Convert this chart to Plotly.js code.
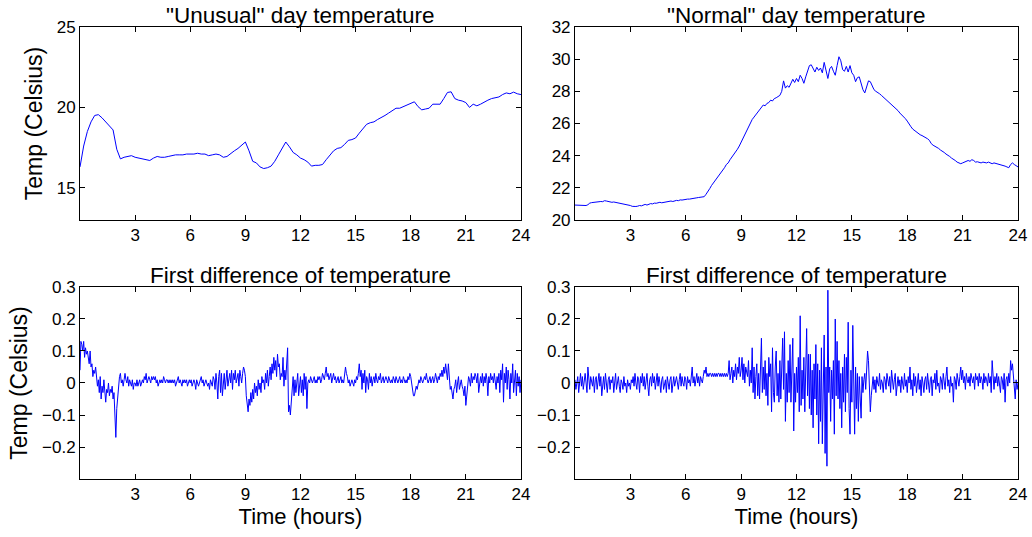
<!DOCTYPE html>
<html><head><meta charset="utf-8">
<script src="https://cdn.plot.ly/plotly-3.0.1.min.js"></script>
<style>html,body{margin:0;padding:0;background:#fff;overflow:hidden}#chart{width:1032px;height:537px}</style>
</head><body><div id="chart"></div>
<script>
// ---- data (time in hours) ----
const unusualTempStep = 0.2;   // hours between samples
const unusualTemp = [
16.3,17.6,18.5,19.1,19.5,
19.55,19.35,19.1,18.85,18.6,
17.4,16.8,16.9,16.95,17.0,
16.9,16.85,16.8,16.75,16.7,
16.85,16.95,16.9,16.9,16.95,
17.0,17.05,17.05,17.05,17.1,
17.1,17.1,17.15,17.1,17.1,
17.0,17.05,17.1,17.05,16.9,
16.95,17.15,17.3,17.45,17.65,
17.85,17.3,16.65,16.55,16.3,
16.2,16.25,16.35,16.65,17.05,
17.5,17.85,17.55,17.2,17.05,
16.85,16.75,16.6,16.35,16.4,
16.4,16.45,16.75,17.05,17.3,
17.45,17.5,17.7,17.95,18.0,
18.1,18.4,18.7,18.95,19.05,
19.1,19.25,19.35,19.5,19.65,
19.8,19.95,19.95,20.05,20.1,
20.2,20.35,20.05,19.85,19.9,
19.95,20.2,20.2,20.2,20.55,
20.93,20.97,20.55,20.45,20.4,
20.3,20.0,20.2,20.1,20.2,
20.35,20.45,20.55,20.6,20.65,
20.8,20.9,20.85,20.95,20.85,
20.8];

const normalTempStep = 0.1;
const normalTemp = [
20.93,20.92,20.9,20.91,20.9,20.89,20.9,20.95,21.05,21.08,
21.1,21.08,21.1,21.12,21.15,21.14,21.2,21.18,21.15,21.12,
21.1,21.12,21.1,21.08,21.05,21.04,21.0,20.98,20.95,20.93,
20.9,20.85,20.83,20.84,20.86,20.9,20.88,20.95,20.97,20.93,
20.98,21.02,21.0,21.05,21.04,21.08,21.1,21.07,21.1,21.12,
21.14,21.16,21.18,21.15,21.2,21.22,21.2,21.25,21.24,21.27,
21.28,21.3,21.3,21.33,21.36,21.35,21.38,21.4,21.42,21.43,
21.45,21.6,21.75,21.95,22.15,22.3,22.45,22.6,22.8,22.95,
23.1,23.25,23.45,23.55,23.75,23.9,24.05,24.25,24.4,24.6,
24.85,25.05,25.25,25.5,25.75,26.0,26.25,26.4,26.55,26.65,
26.8,27.0,27.15,27.1,27.25,27.3,27.45,27.4,27.55,27.6,
27.7,27.75,28.0,28.65,28.2,28.35,28.25,28.5,28.75,28.55,
28.8,28.6,29.0,28.8,28.5,28.9,29.2,29.6,29.65,29.4,
29.2,29.5,29.3,29.45,29.15,29.8,29.3,28.8,29.4,29.55,
29.25,29.0,29.6,30.15,29.9,29.35,29.25,29.55,29.2,29.6,
29.15,29.0,28.6,28.85,28.9,28.5,28.1,27.9,28.35,28.65,
28.6,28.3,28.1,28.0,27.95,27.85,27.75,27.65,27.55,27.4,
27.3,27.2,27.15,27.05,26.9,26.8,26.65,26.55,26.45,26.3,
26.15,25.95,25.8,25.65,25.55,25.45,25.35,25.3,25.25,25.2,
25.1,25.05,24.95,24.75,24.65,24.6,24.55,24.45,24.35,24.3,
24.2,24.1,24.05,23.95,23.85,23.8,23.7,23.6,23.55,23.5,
23.55,23.6,23.65,23.7,23.65,23.75,23.7,23.6,23.62,23.6,
23.55,23.6,23.58,23.55,23.6,23.55,23.5,23.55,23.52,23.5,
23.48,23.45,23.4,23.35,23.3,23.25,23.45,23.55,23.45,23.35,
23.3];

const diffStep = 0.05;
const unusualDiff = [
0.04,0.13,0.12,0.1,0.13,0.08,0.11,0.09,0.1,0.07,0.06,0.1,0.05,0.06,0.02,0.04,0.03,0.05,0.0,-0.01,
0.01,-0.03,0.02,-0.05,-0.01,-0.03,0.01,-0.04,-0.06,-0.02,-0.03,0.0,-0.04,-0.02,-0.03,-0.01,-0.05,-0.03,-0.1,-0.17,
-0.08,-0.04,-0.01,0.02,0.03,0.0,0.01,-0.01,0.01,0.03,0.01,0.0,0.02,-0.01,0.01,0.0,-0.01,0.01,-0.02,0.0,
0.0,-0.01,0.01,-0.01,0.0,0.01,-0.01,0.0,0.01,0.0,0.02,0.01,0.03,0.0,0.01,0.02,0.01,0.0,0.02,0.01,
0.02,0.01,0.02,0.0,0.01,-0.01,0.0,0.01,0.0,0.01,0.0,0.02,0.01,0.0,0.01,0.01,0.0,0.01,0.0,0.01,
0.0,0.01,0.0,0.01,-0.01,0.0,0.01,0.02,0.0,0.01,0.0,-0.01,0.01,0.0,0.01,0.0,0.01,-0.01,0.0,0.01,
0.0,0.01,-0.01,0.0,0.01,0.0,-0.02,0.01,0.0,-0.01,0.0,0.01,0.02,0.0,0.01,-0.01,0.0,0.01,0.0,-0.01,
0.0,-0.02,0.01,0.0,-0.01,0.02,0.01,-0.02,0.03,0.0,-0.05,0.02,0.04,-0.03,0.03,-0.04,0.01,0.03,-0.02,0.02,
0.04,-0.01,0.02,0.03,0.0,0.04,-0.02,0.03,0.01,0.04,0.0,0.02,0.03,-0.01,0.04,0.02,0.0,0.03,0.05,0.04,
0.02,-0.04,-0.07,-0.09,-0.05,-0.07,-0.03,-0.06,-0.02,-0.05,0.0,-0.03,-0.01,-0.04,0.01,-0.02,0.0,-0.03,0.02,0.0,
0.01,-0.02,0.03,0.0,0.04,-0.01,0.02,0.05,0.01,0.06,0.03,0.08,0.04,0.07,0.02,0.09,0.05,0.06,0.01,0.03,
0.02,0.08,-0.01,0.04,0.01,0.05,0.11,-0.09,-0.07,-0.1,-0.05,-0.02,0.02,-0.04,0.01,-0.03,0.0,0.03,-0.04,0.0,
0.02,-0.03,0.01,-0.04,0.03,-0.02,0.02,-0.08,0.0,0.01,0.0,0.02,0.01,0.0,0.01,0.02,0.0,0.01,0.0,0.02,
0.01,0.02,0.0,0.01,0.03,0.02,0.01,0.03,0.05,0.02,0.03,0.01,0.02,0.03,0.0,0.02,0.03,0.01,0.02,0.0,
0.01,0.02,0.0,0.01,0.02,0.0,0.01,0.0,0.02,0.05,0.03,0.02,0.0,0.01,-0.01,0.0,0.01,0.0,-0.01,0.01,
0.0,0.02,0.01,0.03,0.06,0.02,0.04,-0.02,0.03,0.0,0.04,-0.03,0.02,0.01,-0.02,0.03,0.0,0.02,-0.01,0.01,
0.02,0.0,0.03,0.01,0.0,0.02,0.01,0.03,0.0,0.01,0.02,0.0,0.01,0.02,0.01,0.0,0.02,0.01,0.0,0.01,
0.0,0.02,0.01,0.0,0.02,0.01,0.0,0.01,0.02,0.0,0.01,0.0,0.02,0.01,0.0,0.01,0.0,0.02,0.01,0.03,
0.02,0.0,-0.03,-0.04,-0.04,-0.02,-0.01,-0.02,0.0,0.01,0.0,0.02,0.01,0.0,0.01,0.02,0.01,0.03,0.01,0.0,
0.01,0.02,0.0,0.01,0.02,0.0,0.01,0.03,0.01,0.0,0.02,0.01,0.03,0.02,0.04,0.02,0.05,0.03,0.06,0.02,
0.01,0.06,0.0,-0.02,-0.01,-0.03,-0.05,-0.02,-0.01,0.01,-0.03,0.0,0.02,-0.02,0.0,0.01,-0.01,-0.02,-0.04,-0.01,
-0.07,-0.03,0.0,0.02,0.01,-0.01,0.03,0.0,0.02,0.01,0.03,0.02,0.0,0.03,-0.03,0.01,0.02,0.0,0.03,-0.01,
0.02,0.0,0.03,0.01,-0.04,0.02,0.0,0.03,0.01,0.02,0.0,0.03,0.01,-0.02,0.02,0.0,0.03,-0.03,0.04,0.01,
0.06,-0.06,0.03,0.0,0.05,-0.02,0.04,0.01,-0.05,0.03,0.0,0.06,-0.03,0.02,0.04,-0.04,0.03,-0.01,0.02,-0.03,
0.01];

const normalDiff = [
0.01,-0.02,0.0,0.02,-0.03,0.01,0.03,-0.01,0.02,-0.02,0.01,0.03,0.0,-0.03,0.05,0.01,-0.02,0.02,0.0,-0.01,
0.02,-0.03,0.01,0.02,-0.02,0.0,0.03,-0.01,0.02,-0.04,0.01,0.02,-0.02,0.03,0.0,-0.03,0.01,0.02,-0.02,0.01,
0.0,0.02,-0.03,0.01,0.03,-0.02,0.0,0.02,-0.01,-0.03,0.01,0.0,-0.02,0.02,-0.01,0.0,-0.03,0.01,-0.01,0.0,
-0.02,0.01,0.0,0.02,-0.01,0.03,0.0,-0.02,0.02,0.01,-0.03,0.02,0.0,0.03,-0.01,0.02,-0.02,0.0,0.03,-0.01,
-0.04,0.01,0.02,-0.01,0.03,0.0,0.02,-0.02,0.01,0.03,-0.01,0.02,0.0,-0.03,0.01,0.02,-0.02,0.0,0.01,-0.03,
0.02,0.0,-0.02,0.01,0.02,-0.03,0.0,0.02,-0.01,0.01,0.02,0.0,-0.02,0.01,0.03,-0.01,0.02,0.0,-0.01,0.02,
0.01,-0.02,0.02,0.0,0.01,-0.01,0.03,0.05,0.0,0.02,-0.01,0.01,0.03,0.0,0.02,-0.01,0.02,0.01,0.0,0.02,
0.04,0.03,0.05,0.02,0.03,0.02,0.03,0.03,0.02,0.03,0.02,0.03,0.02,0.03,0.02,0.03,0.03,0.02,0.03,0.02,
0.03,0.02,0.03,0.02,0.03,0.02,0.03,0.07,0.01,0.03,0.05,0.0,0.04,0.02,0.06,0.01,0.05,0.03,0.08,0.02,
0.04,0.08,0.01,0.06,0.0,0.05,0.03,0.02,0.07,-0.01,0.04,0.0,0.11,-0.03,0.05,-0.05,0.02,0.06,-0.04,0.03,
-0.05,0.03,0.14,-0.03,0.05,-0.02,0.07,-0.04,0.03,-0.07,0.08,0.02,0.06,-0.09,0.11,-0.03,-0.06,0.05,0.1,-0.04,
0.03,-0.06,0.07,-0.05,0.04,0.14,-0.02,0.16,-0.12,0.03,-0.06,0.07,-0.03,0.12,-0.06,0.05,0.14,-0.15,0.03,-0.06,
0.05,-0.03,0.08,-0.09,0.21,-0.07,0.04,-0.05,0.08,-0.09,0.06,0.17,-0.04,0.09,-0.08,0.09,-0.1,0.04,-0.14,0.06,
-0.05,0.12,-0.1,0.06,-0.19,0.04,-0.12,0.11,-0.19,0.07,0.15,-0.22,0.05,-0.26,0.29,-0.03,0.05,-0.12,0.04,-0.05,
0.07,-0.16,0.2,-0.04,0.13,-0.05,0.07,-0.08,0.03,-0.14,0.05,-0.06,0.09,-0.09,0.08,-0.03,0.19,-0.08,-0.16,0.04,
-0.06,0.18,-0.05,-0.16,0.05,-0.08,0.03,-0.12,0.02,-0.04,-0.11,0.02,-0.03,0.01,0.03,-0.02,0.08,0.1,0.07,-0.02,
-0.09,-0.04,0.0,0.02,-0.02,0.01,-0.03,0.02,0.0,-0.01,0.03,-0.02,0.01,0.0,-0.03,0.02,0.01,-0.02,0.03,0.0,
-0.01,0.02,-0.03,0.04,0.0,-0.02,0.01,0.03,-0.04,0.0,0.02,-0.01,0.01,-0.03,0.02,0.0,-0.02,0.03,-0.01,0.01,
-0.03,0.02,0.0,0.05,-0.02,0.01,-0.04,0.03,-0.01,0.02,-0.03,0.0,0.03,-0.02,0.01,-0.04,0.02,0.0,-0.03,0.01,
0.02,-0.02,0.03,0.0,-0.03,0.01,0.02,-0.04,0.01,0.0,0.03,-0.02,0.04,-0.01,0.0,-0.03,0.02,0.01,-0.02,0.03,
0.0,-0.02,0.02,0.05,-0.01,0.01,-0.03,0.02,-0.01,0.0,-0.06,0.02,0.01,-0.02,0.03,0.0,-0.01,0.02,0.05,0.01,
0.04,0.0,0.02,-0.02,0.03,0.01,0.0,0.02,-0.01,0.03,0.01,0.0,0.02,-0.02,0.03,0.01,0.02,-0.01,0.03,0.0,
0.02,0.01,-0.02,0.03,0.0,0.02,0.01,-0.01,0.03,0.0,0.02,-0.03,0.07,0.01,-0.02,0.02,0.0,0.03,-0.01,0.02,
0.0,-0.03,0.02,0.01,-0.02,0.03,-0.06,0.01,0.02,-0.01,0.03,0.0,0.07,0.04,0.06,0.02,-0.01,-0.05,0.01,-0.02,
0.0];

// ---- ticks and labels ----
const hourTicks = [3, 6, 9, 12, 15, 18, 21, 24];
const unusualTempTicks = [15, 20, 25];
const normalTempTicks = [20, 22, 24, 26, 28, 30, 32];
const diffTicks = [-0.2, -0.1, 0, 0.1, 0.2, 0.3];
const diffTickText = ['\u22120.2', '\u22120.1', '0', '0.1', '0.2', '0.3'];
const panelTitles = ['"Unusual" day temperature', '"Normal" day temperature',
                     'First difference of temperature', 'First difference of temperature'];
const yLabel = 'Temp (Celsius)';
const xLabel = 'Time (hours)';

// sample index -> hour of day
const hoursFor = (arr, step) => arr.map((_, i) => Math.round(i * step * 1000) / 1000);

const FONT = '"Liberation Sans", Arial, Helvetica, sans-serif';
const lineStyle = {color: '#0000ff', width: 1};

const traces = [
  {x: hoursFor(unusualTemp, unusualTempStep), y: unusualTemp, xaxis: 'x', yaxis: 'y'},
  {x: hoursFor(normalTemp, normalTempStep), y: normalTemp, xaxis: 'x2', yaxis: 'y2'},
  {x: hoursFor(unusualDiff, diffStep), y: unusualDiff, xaxis: 'x3', yaxis: 'y3'},
  {x: hoursFor(normalDiff, diffStep), y: normalDiff, xaxis: 'x4', yaxis: 'y4'}
].map(t => Object.assign(t, {type: 'scatter', mode: 'lines', line: lineStyle, hoverinfo: 'x+y'}));

function ax(extra) {
  return Object.assign({
    showline: true, linecolor: '#000', linewidth: 1, mirror: 'ticks',
    ticks: 'inside', ticklen: 5, tickwidth: 1, tickcolor: '#000',
    showgrid: false, zeroline: false, fixedrange: true,
    tickfont: {family: FONT, size: 17, color: '#000'}
  }, extra);
}
const leftDom = [0, 0.4701], rightDom = [0.5277, 1];
const topDom = [0.5730, 1], botDom = [0, 0.4248];
const axTitle = (text, standoff, size) => ({text: text, font: {family: FONT, size: size, color: '#000'}, standoff: standoff});

const layout = {
  width: 1032, height: 537,
  margin: {l: 80, r: 14, t: 27, b: 58},
  paper_bgcolor: '#fff', plot_bgcolor: '#fff',
  showlegend: false,
  font: {family: FONT, color: '#000'},
  xaxis:  ax({domain: leftDom,  anchor: 'y',  range: [0, 24], tickvals: hourTicks}),
  xaxis2: ax({domain: rightDom, anchor: 'y2', range: [0, 24], tickvals: hourTicks}),
  xaxis3: ax({domain: leftDom,  anchor: 'y3', range: [0, 24], tickvals: hourTicks, title: axTitle(xLabel, 4, 22)}),
  xaxis4: ax({domain: rightDom, anchor: 'y4', range: [0, 24], tickvals: hourTicks, title: axTitle(xLabel, 4, 22)}),
  yaxis:  ax({domain: topDom, anchor: 'x',  range: [13, 25], tickvals: unusualTempTicks, title: axTitle(yLabel, 7, 23)}),
  yaxis2: ax({domain: topDom, anchor: 'x2', range: [20, 32], tickvals: normalTempTicks}),
  yaxis3: ax({domain: botDom, anchor: 'x3', range: [-0.3, 0.3], tickvals: diffTicks, ticktext: diffTickText, title: axTitle(yLabel, 7, 23)}),
  yaxis4: ax({domain: botDom, anchor: 'x4', range: [-0.3, 0.3], tickvals: diffTicks, ticktext: diffTickText}),
  annotations: panelTitles.map((t, i) => ({
    text: t, showarrow: false,
    xref: ['x', 'x2', 'x3', 'x4'][i] + ' domain', yref: ['y', 'y2', 'y3', 'y4'][i] + ' domain',
    x: 0.5, y: 1, xanchor: 'center', yanchor: 'bottom', yshift: -3,
    font: {family: FONT, size: 22.5, color: '#000'}
  }))
};

Plotly.newPlot('chart', traces, layout, {staticPlot: true, displayModeBar: false});
</script>
</body></html>
